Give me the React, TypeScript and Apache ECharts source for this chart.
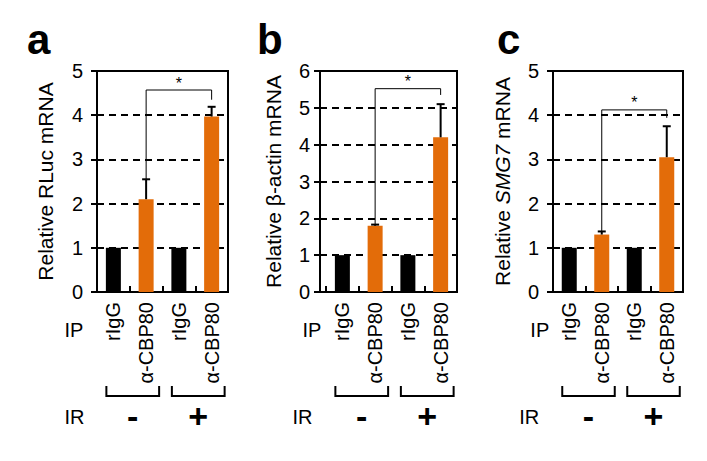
import React, { useEffect, useRef } from "react";
import * as echarts from "echarts";

const FONT = '"Liberation Sans", Arial, Helvetica, sans-serif';
const ORANGE = "#E36C09";

// ---- data ----
const categories = ["rIgG", "α-CBP80", "rIgG", "α-CBP80"];
const barColors = ["#000000", ORANGE, "#000000", ORANGE];

const panelLetters = ["a", "b", "c"];
const yAxisTitles = ["Relative RLuc mRNA", "Relative β-actin mRNA", "Relative {i|SMG7} mRNA"];
const yMaxValues = [5, 6, 5];

const rlucValues = [1, 2.1, 1, 3.97];
const rlucErrors = [0, 0.45, 0, 0.22];
const actinValues = [1, 1.8, 1, 4.2];
const actinErrors = [0, 0.03, 0, 0.9];
const smg7Values = [1, 1.3, 1, 3.05];
const smg7Errors = [0, 0.07, 0, 0.7];

// significance brackets: [leftCategory, rightCategory, bracketLevel, leftEnd, rightEnd]
const rlucBracket = [1, 3, 4.57, 2.55, 4.35];
const actinBracket = [1, 3, 5.52, 1.84, 5.35];
const smg7Bracket = [1, 3, 4.12, 1.38, 3.94];
const significanceMark = "*";

const ipLabel = "IP";
const irLabel = "IR";
const irGroups = ["-", "+"];

const panelValues = [rlucValues, actinValues, smg7Values];
const panelErrors = [rlucErrors, actinErrors, smg7Errors];
const panelBrackets = [rlucBracket, actinBracket, smg7Bracket];

// ---- layout (pixels) ----
const layout = [
  { frameLeft: 97, frameWidth: 131, dataLeft: 97, dataWidth: 131, labelMargin: 14, nameGap: 41, ipDx: -30, irDx: -29, letterX: 27 },
  { frameLeft: 320, frameWidth: 137, dataLeft: 326, dataWidth: 131, labelMargin: 10, nameGap: 36, ipDx: -21, irDx: -30, letterX: 257 },
  { frameLeft: 553, frameWidth: 130, dataLeft: 553, dataWidth: 130, labelMargin: 14, nameGap: 40, ipDx: -20, irDx: -30, letterX: 497 },
];
const TOP = 71;
const HEIGHT = 221;

function buildOption() {
  const grid: any[] = [];
  const xAxis: any[] = [];
  const yAxis: any[] = [];
  const series: any[] = [];

  layout.forEach((L, p) => {
    const fi = 2 * p;
    const di = 2 * p + 1;
    grid.push({ left: L.frameLeft, top: TOP, width: L.frameWidth, height: HEIGHT, show: true, borderColor: "#000", borderWidth: 2, backgroundColor: "transparent" });
    grid.push({ left: L.dataLeft, top: TOP, width: L.dataWidth, height: HEIGHT, show: false });

    xAxis.push({ type: "value", gridIndex: fi, show: false, min: 0, max: 1 });
    xAxis.push({
      type: "category",
      gridIndex: di,
      data: categories,
      axisLine: { show: true, lineStyle: { color: "#000", width: 2 } },
      axisTick: { show: true, inside: true, length: 6, lineStyle: { color: "#000", width: 2 } },
      axisLabel: { rotate: 90, margin: 10, fontSize: 20, fontFamily: FONT, color: "#000", interval: 0 },
      splitLine: { show: false },
    });

    yAxis.push({
      type: "value",
      gridIndex: fi,
      min: 0,
      max: yMaxValues[p],
      interval: 1,
      name: yAxisTitles[p],
      nameLocation: "middle",
      nameRotate: 90,
      nameGap: L.nameGap,
      nameTextStyle: {
        fontSize: 21,
        fontFamily: FONT,
        color: "#000",
        rich: { i: { fontSize: 21, fontFamily: FONT, color: "#000", fontStyle: "italic" } },
      },
      axisLine: { show: true, lineStyle: { color: "#000", width: 2 } },
      axisTick: { show: true, inside: false, length: 6, lineStyle: { color: "#000", width: 2 } },
      axisLabel: { margin: L.labelMargin, fontSize: 20, fontFamily: FONT, color: "#000" },
      splitLine: { show: true, lineStyle: { color: "#000", width: 1.8, type: [7, 5] } },
    });
    yAxis.push({ type: "value", gridIndex: di, show: false, min: 0, max: yMaxValues[p], interval: 1, splitLine: { show: false } });

    series.push({
      type: "bar",
      xAxisIndex: di,
      yAxisIndex: di,
      barWidth: 15,
      data: panelValues[p].map((v, i) => ({ value: v, itemStyle: { color: barColors[i] } })),
      z: 2,
    });

    series.push({
      type: "custom",
      xAxisIndex: di,
      yAxisIndex: di,
      z: 3,
      data: panelValues[p].map((v, i) => [i, v, panelErrors[p][i]]),
      renderItem: (params: any, api: any) => {
        const x = api.value(0);
        const v = api.value(1);
        const e = api.value(2);
        if (!e) return { type: "group", children: [] };
        const p0 = api.coord([x, v]);
        const p1 = api.coord([x, v + e]);
        return {
          type: "group",
          children: [
            { type: "line", shape: { x1: p0[0], y1: p0[1], x2: p1[0], y2: p1[1] }, style: { stroke: "#000", lineWidth: 2 } },
            { type: "line", shape: { x1: p1[0] - 4, y1: p1[1], x2: p1[0] + 4, y2: p1[1] }, style: { stroke: "#000", lineWidth: 2 } },
          ],
        };
      },
    });

    series.push({
      type: "custom",
      xAxisIndex: di,
      yAxisIndex: di,
      z: 4,
      data: [panelBrackets[p]],
      renderItem: (params: any, api: any) => {
        const l = api.value(0);
        const r = api.value(1);
        const lvl = api.value(2);
        const lb = api.value(3);
        const rb = api.value(4);
        const a = api.coord([l, lb]);
        const b = api.coord([l, lvl]);
        const c = api.coord([r, lvl]);
        const d = api.coord([r, rb]);
        return {
          type: "group",
          children: [
            { type: "polyline", shape: { points: [a, b, c, d] }, style: { stroke: "#000", lineWidth: 1, fill: null } },
            {
              type: "text",
              style: { text: significanceMark, x: (b[0] + c[0]) / 2, y: b[1] - 7, fill: "#000", font: `16px ${FONT}`, align: "center", verticalAlign: "middle" },
            },
          ],
        };
      },
    });

    series.push({
      type: "custom",
      xAxisIndex: di,
      yAxisIndex: di,
      z: 4,
      clip: false,
      data: [[0, 0]],
      renderItem: (params: any, api: any) => {
        const c = (i: number) => api.coord([i, 0]);
        const y0 = c(0)[1];
        const children: any[] = [];
        [0, 2].forEach((g, gi) => {
          const x1 = c(g)[0] - 7;
          const x2 = c(g + 1)[0] + 13;
          children.push({
            type: "polyline",
            shape: { points: [[x1, y0 + 94], [x1, y0 + 104], [x2, y0 + 104], [x2, y0 + 94]] },
            style: { stroke: "#000", lineWidth: 2, fill: null },
          });
          children.push({
            type: "text",
            style: { text: irGroups[gi], x: (x1 + x2) / 2, y: y0 + 124, fill: "#000", font: `bold 34px ${FONT}`, align: "center", verticalAlign: "middle" },
          });
        });
        children.push({
          type: "text",
          style: { text: ipLabel, x: c(0)[0] + layout[p].ipDx, y: y0 + 38, fill: "#000", font: `20px ${FONT}`, align: "right", verticalAlign: "middle" },
        });
        children.push({
          type: "text",
          style: { text: irLabel, x: c(0)[0] + layout[p].irDx, y: y0 + 125, fill: "#000", font: `20px ${FONT}`, align: "right", verticalAlign: "middle" },
        });
        return { type: "group", children };
      },
    });
  });

  const graphic = panelLetters.map((t, p) => ({
    type: "text",
    left: layout[p].letterX,
    top: 18,
    style: { text: t, font: `bold 42px ${FONT}`, fill: "#000" },
  }));

  return {
    animation: false,
    backgroundColor: "#fff",
    grid,
    xAxis,
    yAxis,
    series,
    graphic,
  };
}

export default function App() {
  const ref = useRef<HTMLDivElement>(null);
  useEffect(() => {
    if (!ref.current) return;
    const chart = echarts.init(ref.current, null, { renderer: "svg" });
    chart.setOption(buildOption() as any);
    return () => chart.dispose();
  }, []);
  return <div ref={ref} style={{ position: "fixed", left: 0, top: 0, width: 707, height: 461, background: "#fff" }} />;
}
